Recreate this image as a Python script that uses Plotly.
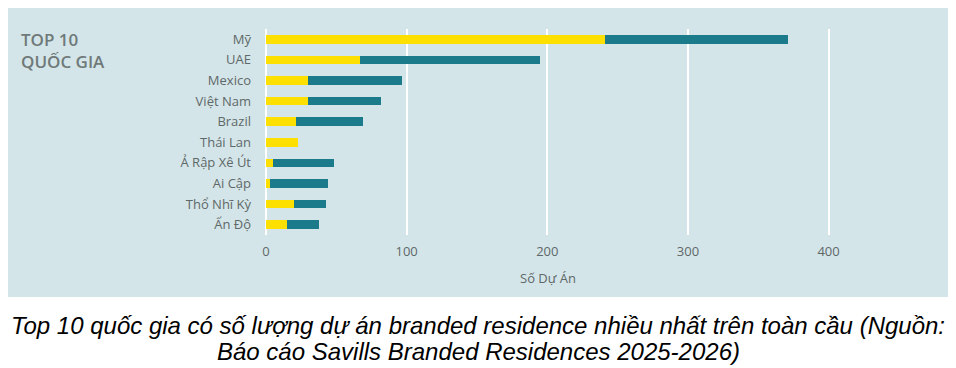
import plotly.graph_objects as go

countries = ["Mỹ", "UAE", "Mexico", "Việt Nam", "Brazil", "Thái Lan",
             "Ả Rập Xê Út", "Ai Cập", "Thổ Nhĩ Kỳ", "Ấn Độ"]
series_a = [241, 67, 30, 30, 21, 23, 5, 3, 20, 15]      # yellow segment
series_b = [130, 128, 67, 52, 48, 0, 43, 41, 23, 23]    # teal segment
x_ticks = [0, 100, 200, 300, 400]
title_text = "TOP 10<br>QUỐC GIA"
axis_title = "Số Dự Án"
caption_1 = "Top 10 quốc gia có số lượng dự án branded residence nhiều nhất trên toàn cầu (Nguồn:"
caption_2 = "Báo cáo Savills Branded Residences 2025-2026)"

OFF = 8  # page body margin offset
W, H = 956 - OFF, 368 - OFF
L, R, T, B = 266 - OFF, 956 - 830, 29 - OFF, 368 - 235
pw, ph = W - L - R, H - T - B

def px(x):
    return (x - OFF - L) / pw

def py(y):
    return (H - B - (y - OFF)) / ph

PANEL = "#d3e5e8"
YEL = "#fde000"
TEAL = "#1b7b8a"
GREY = "#5f6868"

fig = go.Figure()
fig.add_trace(go.Bar(y=countries, x=series_a, orientation="h", marker_color=YEL,
                     marker_line_width=0, width=0.42, name="A"))
fig.add_trace(go.Bar(y=countries, x=series_b, orientation="h", marker_color=TEAL,
                     marker_line_width=0, width=0.42, name="B"))

fig.update_layout(
    width=W, height=H, barmode="stack", showlegend=False,
    margin=dict(l=L, r=R, t=T, b=B, pad=0),
    paper_bgcolor="white", plot_bgcolor=PANEL,
    font=dict(family="Open Sans", color=GREY, size=13),
    xaxis=dict(range=[0, 401], tickvals=x_ticks, showgrid=True, gridcolor="white",
               gridwidth=2, zeroline=True, zerolinecolor="white", zerolinewidth=2,
               showline=False, ticks="", ticklabelstandoff=7,
               tickfont=dict(size=13, color=GREY),
               title=dict(text=axis_title, font=dict(size=13, color=GREY), standoff=14)),
    yaxis=dict(autorange="reversed", showgrid=False, zeroline=False, showline=False,
               ticks="", ticklabelstandoff=14, tickfont=dict(size=13, color=GREY)),
    shapes=[dict(type="rect", xref="paper", yref="paper", x0=px(3), x1=px(950),
                 y0=py(297), y1=py(4), fillcolor=PANEL, line_width=0, layer="below")],
    annotations=[
        dict(text=title_text, xref="paper", yref="paper", x=px(19), y=py(26),
             xanchor="left", yanchor="top", align="left", showarrow=False,
             font=dict(family="Open Sans", size=17, color="#6f7979", weight=600)),
        dict(text="<i>" + caption_1 + "</i>", xref="paper", yref="paper", x=px(478), y=py(325),
             xanchor="center", yanchor="middle", showarrow=False,
             font=dict(family="Liberation Sans", size=24, color="black")),
        dict(text="<i>" + caption_2 + "</i>", xref="paper", yref="paper", x=px(478), y=py(351),
             xanchor="center", yanchor="middle", showarrow=False,
             font=dict(family="Liberation Sans", size=24, color="black")),
    ],
)

fig.write_html("out.html")
